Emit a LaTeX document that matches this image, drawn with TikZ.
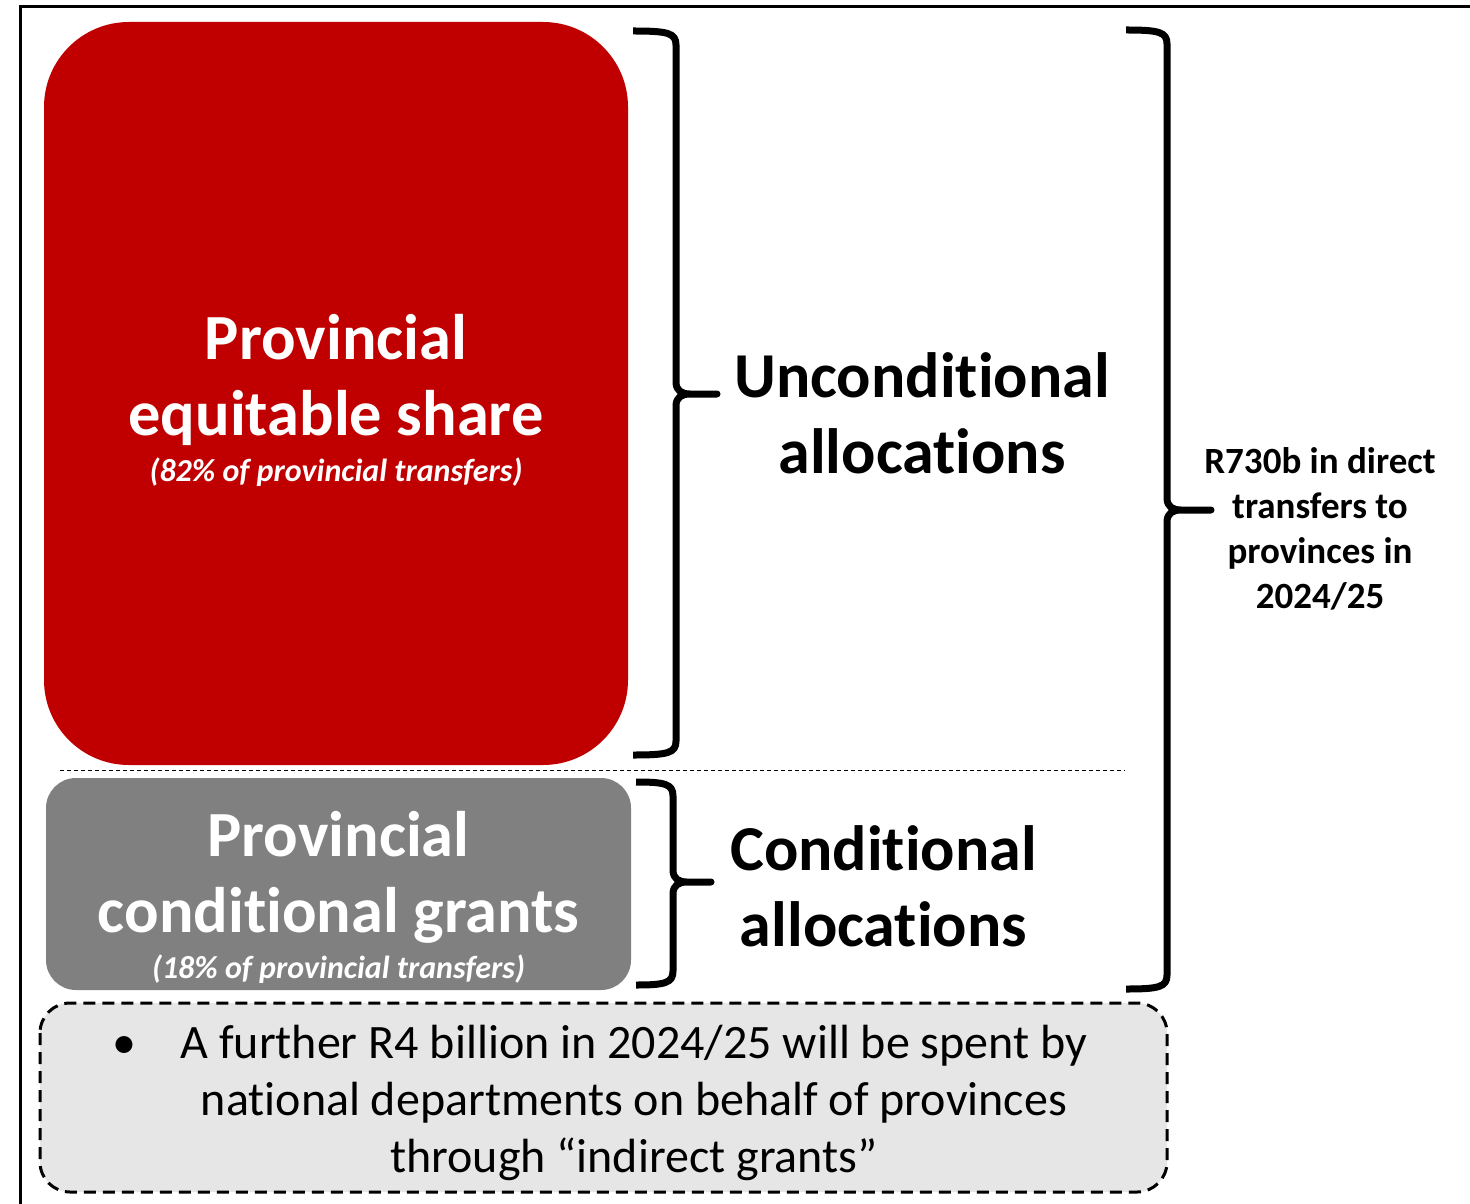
\documentclass[tikz,border=0pt]{standalone}
\usepackage{fontspec}
\setmainfont{Carlito}[Ligatures=NoCommon]
\usetikzlibrary{positioning}
\definecolor{eqred}{HTML}{C00000}
\definecolor{cgrey}{HTML}{808080}
\definecolor{notefill}{HTML}{E6E6E6}
% font sizes (1px = 0.5pt)
\newcommand\boxfont{\fontsize{32.2}{38}\selectfont\bfseries}
\newcommand\subfont{\fontsize{16}{18}\selectfont\bfseries\itshape}
\newcommand\allocfont{\fontsize{32}{38}\selectfont\bfseries}
% a right brace: left x, spine x, tip x, top y, tip y, bottom y
\newcommand\drawbrk[6]{%
  \draw[brk] (#1,#4) .. controls ({#2-8},{#4}) and (#2,{#4+2}) .. (#2,{#4+14})
    -- (#2,{#5-12}) .. controls (#2,{#5-3}) and ({#2+6},#5) .. ({#2+14},#5)
    -- (#3,#5) -- ({#2+14},#5) .. controls ({#2+6},#5) and (#2,{#5+3}) .. (#2,{#5+12})
    -- (#2,{#6-14}) .. controls (#2,{#6-2}) and ({#2-8},#6) .. (#1,#6);}
\begin{document}
\begin{tikzpicture}[
    x=0.5pt, y=-0.5pt,
    share box/.style={rounded corners=#1, inner sep=0pt},
    share text/.style={text=white, align=center, font=\boxfont},
    brk/.style={line width=3.5pt, line cap=butt, line join=round},
    alloc/.style={align=center, font=\allocfont},
    total/.style={align=center, font=\fontsize{18.5}{22.5}\selectfont\bfseries},
    note box/.style={draw, dashed, dash pattern=on 6pt off 3.5pt, line width=1.5pt, fill=notefill, rounded corners=15pt},
    note/.style={align=center, font=\fontsize{24}{28.5}\selectfont},
  ]
  \clip (0,0) rectangle (1470,1203);
  \fill[white] (0,0) rectangle (1470,1203);
  % outer frame, cut by the page on the right and at the bottom
  \draw[line width=1.5pt] (20,1220) -- (20,7) -- (1490,7);

  % the two kinds of transfer
  \node[share box=42.5pt, fill=eqred, minimum width=292pt, minimum height=371.5pt] (equit) at (336,393.5) {};
  \node[share text] (equitlbl) at (336,400) {Provincial\\equitable share\\[-15pt]{\subfont (82\% of provincial transfers)}};
  \node[share box=15pt, fill=cgrey, minimum width=292.5pt, minimum height=106pt] (cgrant) at (338.5,884) {};
  \node[share text] (cgrantlbl) at (338.5,897) {Provincial\\conditional grants\\[-15pt]{\subfont (18\% of provincial transfers)}};
  \draw[line width=0.5pt, dash pattern=on 2pt off 1.5pt] (60,770) -- (1125,770);

  % braces and what they group
  \drawbrk{633}{676}{717}{31}{394}{755}
  \drawbrk{636}{673}{711}{782}{882}{985}
  \drawbrk{1126}{1167}{1211}{30}{510}{989}
  \node[alloc] (uncond) at (922,413) {Unconditional\\allocations};
  \node[alloc] (cond) at (883.5,886) {Conditional\\allocations};
  \node[total] (direct) at (1320,529) {R730b in direct\\transfers to\\provinces in\\2024/25};

  % indirect grants
  \draw[note box] (40,1003) rectangle (1167,1192);
  \node[note] (indir) at (634,1103) {\llap{\textbullet\hspace{22pt}}A further R4 billion in 2024/25 will be spent by\\national departments on behalf of provinces\\through “indirect grants”};
\end{tikzpicture}
\end{document}
